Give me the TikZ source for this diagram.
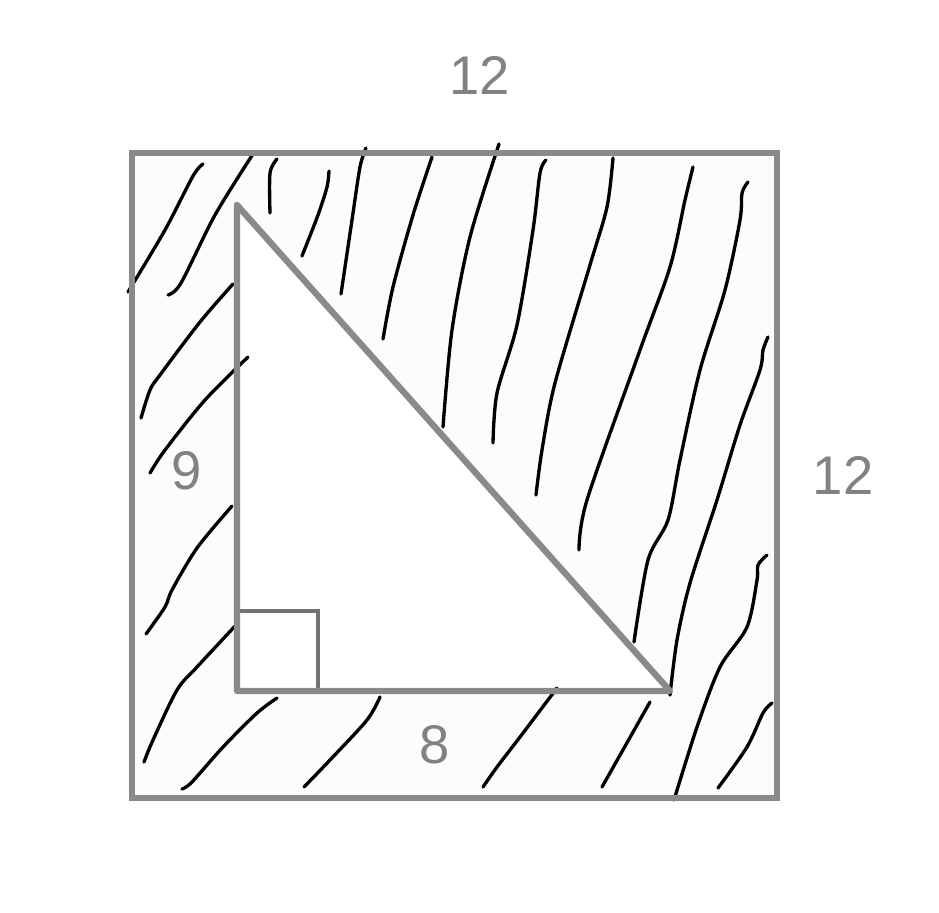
\documentclass[tikz,border=0pt]{standalone}
\usepackage{fontspec}
\setmainfont{Liberation Sans}
\definecolor{sqgray}{HTML}{8A8A8A}
\definecolor{rtgray}{HTML}{727272}
\definecolor{numgray}{HTML}{828282}
\tikzset{
  scribble/.style={black, line width=1.9pt, line cap=round, line join=round},
  num/.style={text=numgray, font=\fontsize{31}{36}\selectfont, inner sep=0pt}
}
\begin{document}
\begin{tikzpicture}[x=0.02cm, y=-0.02cm]
\useasboundingbox (0,0) rectangle (939,912);
\coordinate (tl) at (132,153);
\coordinate (br) at (777,798);
\coordinate (a) at (237,205);
\coordinate (c) at (237,691);
\coordinate (b) at (670,691);
\fill[black!1] (tl) rectangle (br);
\fill[white] (a) -- (c) -- (b) -- cycle;
% hatching
\draw[scribble] plot[smooth] coordinates {(128,292) (165,230) (193,176) (203,164)};
\draw[scribble] plot[smooth] coordinates {(168,295) (181,283) (215,215) (253,154)};
\draw[scribble] plot[smooth] coordinates {(270,213) (270,173) (277,159)};
\draw[scribble] plot[smooth] coordinates {(302,256) (318,215) (327,187) (329,171)};
\draw[scribble] plot[smooth] coordinates {(341,294) (352,220) (360,167) (366,148)};
\draw[scribble] plot[smooth] coordinates {(383,339) (393,287) (413,215) (432,157)};
\draw[scribble] plot[smooth] coordinates {(443,427) (452,330) (470,237) (499,144)};
\draw[scribble] plot[smooth] coordinates {(493,443) (497,393) (517,325) (533,230) (540,173) (546,160)};
\draw[scribble] plot[smooth] coordinates {(536,495) (542,450) (555,383) (590,265) (607,207) (613,158)};
\draw[scribble] plot[smooth] coordinates {(579,550) (587,500) (640,350) (670,267) (685,200) (693,167)};
\draw[scribble] plot[smooth] coordinates {(634,642) (648,560) (668,520) (680,460) (700,370) (725,290) (740,220) (742,193) (748,182)};
\draw[scribble] plot[smooth] coordinates {(670,695) (677,640) (690,583) (717,500) (740,425) (760,370) (763,350) (768,337)};
\draw[scribble] plot[smooth] coordinates {(141,418) (150,390) (160,375) (200,322) (233,284)};
\draw[scribble] plot[smooth] coordinates {(150,473) (165,450) (205,400) (248,357)};
\draw[scribble] plot[smooth] coordinates {(146,634) (165,607) (172,590) (197,548) (232,506)};
\draw[scribble] plot[smooth] coordinates {(144,762) (153,740) (177,690) (197,667) (237,624)};
\draw[scribble] plot[smooth] coordinates {(182,789) (192,782) (223,747) (257,713) (277,698)};
\draw[scribble] plot[smooth] coordinates {(304,787) (330,760) (367,720) (380,697)};
\draw[scribble] plot[smooth] coordinates {(483,787) (497,767) (520,737) (557,688)};
\draw[scribble] plot[smooth] coordinates {(602,787) (650,702)};
\draw[scribble] plot[smooth] coordinates {(674,800) (697,727) (720,667) (747,627) (757,580) (758,565) (767,555)};
\draw[scribble] plot[smooth] coordinates {(718,788) (747,747) (763,713) (772,703)};
% square and triangle
\draw[sqgray, line width=3.1pt] (tl) rectangle (br);
\draw[rtgray, line width=2.4pt] (237,611) -- (318,611) -- (318,691);
\draw[sqgray, line width=3.6pt, line join=round] (a) -- (c) -- (b) -- cycle;
% labels
\node[num] (top) at (480,75) {12};
\node[num] (rgt) at (843,475) {12};
\node[num] (leg) at (187,471) {9};
\node[num] (base) at (435,745) {8};
\end{tikzpicture}
\end{document}
